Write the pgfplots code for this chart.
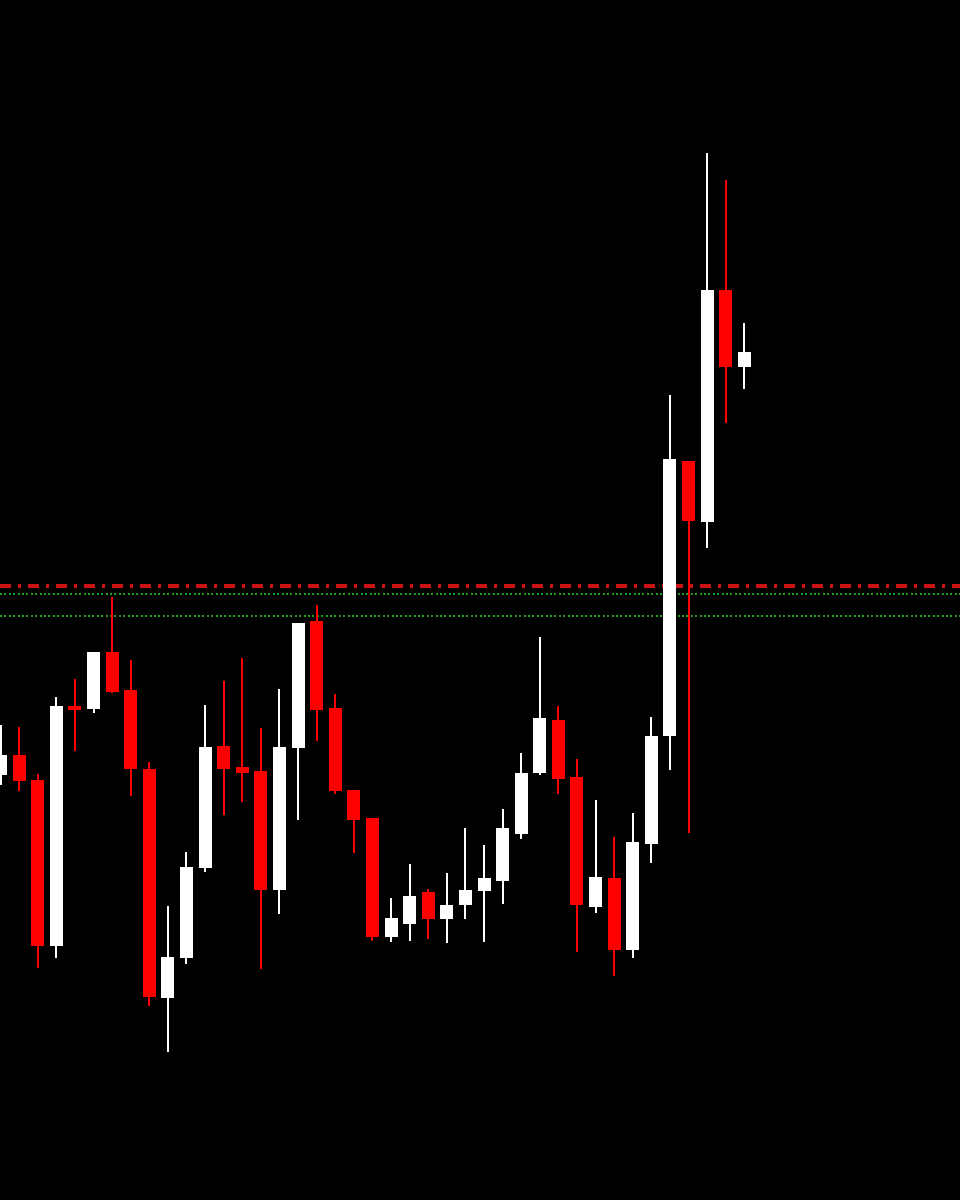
\documentclass[border=0pt]{standalone}
\usepackage{pgfplots}
\usepackage{pgfplotstable}
\pgfplotsset{compat=1.18}

\definecolor{candlered}{RGB}{255,0,0}
\definecolor{levelred}{RGB}{205,20,20}
\definecolor{levelgreen}{RGB}{30,160,30}

% candle index, body top, body bottom, wick top, wick bottom (screen rows, y reversed)
\pgfplotstableread{
i   bt   bb   wt   wb
0   755  775  725  785
3   706  946  697  958
5   652  709  652  713
9   957  998  906  1052
10  867  958  852  964
11  747  868  705  872
15  747  890  689  914
16  623  748  623  820
21  918  937  898  942
22  896  924  864  941
24  905  919  873  943
25  890  905  828  919
26  878  891  845  942
27  828  881  809  904
28  773  834  753  839
29  718  773  637  775
32  877  907  800  913
34  842  950  813  958
35  736  844  717  863
36  459  736  395  770
38  290  522  153  548
40  352  367  323  389
}\upcandles

\pgfplotstableread{
i   bt   bb   wt   wb
1   755  781  727  791
2   780  946  774  968
4   706  710  679  751
6   652  692  597  693
7   690  769  660  796
8   769  997  762  1006
12  746  769  681  815
13  767  773  658  802
14  771  890  728  969
17  621  710  605  741
18  708  791  694  794
19  790  820  790  853
20  818  937  818  941
23  892  919  889  939
30  720  779  706  794
31  777  905  759  952
33  878  950  837  976
37  461  521  461  833
39  290  367  180  423
}\downcandles

\pgfplotsset{
    candle/.style 2 args={draw=none, no markers,
        error bars/.cd, y dir=both, y explicit, error mark=none,
        error bar style={draw=#1, line width=#2}},
}

\begin{document}
\begin{tikzpicture}
\begin{axis}[
    width=480pt, height=600pt,
    scale only axis,
    xmin=-0.03, xmax=51.6,
    ymin=0, ymax=1200,
    y dir=reverse,
    axis line style={draw=none},
    xtick=\empty, ytick=\empty,
    axis background/.style={fill=black},
    clip=true,
]

% level lines
\addplot[levelred, line width=2pt, dash pattern=on 5.5pt off 3.6pt on 1.3pt off 3.6pt]
    coordinates {(-0.03,585.5) (51.6,585.5)};
\addplot[levelgreen, line width=1pt, dash pattern=on 1pt off 1.2pt]
    coordinates {(-0.03,594) (51.6,594)};
\addplot[levelgreen, line width=1pt, dash pattern=on 1pt off 1.2pt]
    coordinates {(-0.03,616) (51.6,616)};

% wicks
\addplot[candle={white}{1pt}]
    table[x=i, y expr=(\thisrow{wt}+\thisrow{wb})/2,
          y error expr=(\thisrow{wb}-\thisrow{wt})/2] {\upcandles};
\addplot[candle={candlered}{1pt}]
    table[x=i, y expr=(\thisrow{wt}+\thisrow{wb})/2,
          y error expr=(\thisrow{wb}-\thisrow{wt})/2] {\downcandles};

% bodies
\addplot[candle={white}{6.5pt}]
    table[x=i, y expr=(\thisrow{bt}+\thisrow{bb})/2,
          y error expr=(\thisrow{bb}-\thisrow{bt})/2] {\upcandles};
\addplot[candle={candlered}{6.5pt}]
    table[x=i, y expr=(\thisrow{bt}+\thisrow{bb})/2,
          y error expr=(\thisrow{bb}-\thisrow{bt})/2] {\downcandles};

\end{axis}
\pgfresetboundingbox
\path[use as bounding box] (current axis.south west) rectangle (current axis.north east);
\end{tikzpicture}
\end{document}
